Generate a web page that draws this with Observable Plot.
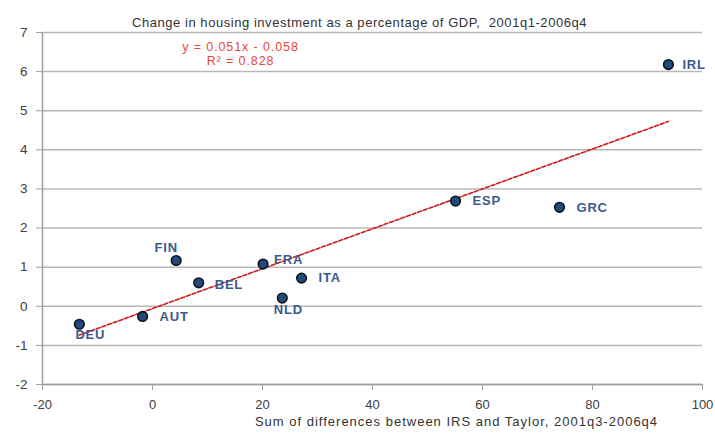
<!DOCTYPE html>
<html>
<head>
<meta charset="utf-8">
<script src="https://cdn.jsdelivr.net/npm/d3@7"></script>
<script src="https://cdn.jsdelivr.net/npm/@observablehq/plot@0.6"></script>
<style>
  body { margin: 0; background: #fff; font-family: "Liberation Sans", Arial, sans-serif; }
</style>
</head>
<body>
<div id="chart"></div>
<script>
const countries = ["IRL", "ESP", "GRC", "FIN", "BEL", "FRA", "ITA", "NLD", "AUT", "DEU"];
const xValues = [93.8, 55.1, 74.0, 4.3, 8.4, 20.1, 27.1, 23.6, -1.8, -13.3];
const yValues = [6.18, 2.69, 2.53, 1.17, 0.60, 1.08, 0.72, 0.21, -0.26, -0.46];
const labelDx = [14, 17, 17, -10, 16, 11, 17, 6, 17, 11];
const labelDy = [0, 0, 1, -13, 2, -4, 0, 12, 0, 11];
const labelAnchor = ["start", "start", "start", "middle", "start", "start", "start", "middle", "start", "middle"];
const xTicks = [-20, 0, 20, 40, 60, 80, 100];
const yTicks = [-2, -1, 0, 1, 2, 3, 4, 5, 6, 7];
const slope = 0.051, intercept = -0.058;
const title = "Change in housing investment as a percentage of GDP,  2001q1-2006q4";
const xLabel = "Sum of differences between IRS and Taylor, 2001q3-2006q4";
const equation = ["y = 0.051x - 0.058", "R\u00b2 = 0.828"];

const pts = countries.map((c, i) => ({c, x: xValues[i], y: yValues[i], dx: labelDx[i], dy: labelDy[i], a: labelAnchor[i]}));
const xmin = d3.min(xValues), xmax = d3.max(xValues);
const trend = [{x: xmin, y: slope * xmin + intercept}, {x: xmax, y: slope * xmax + intercept}];

const labelMarks = pts.map(d => Plot.text([d], {x: "x", y: "y", text: "c", dx: d.dx, dy: d.dy, textAnchor: d.a,
    fill: "#3a5a8c", fontWeight: "bold", fontSize: 13, fontFamily: "Liberation Sans, Arial, sans-serif"}));

const fmt = d => String(d);

const chart = Plot.plot({
  width: 715,
  height: 434,
  marginLeft: 42,
  marginRight: 13,
  marginTop: 32,
  marginBottom: 50,
  style: {fontFamily: "Liberation Sans, Arial, sans-serif", fontSize: "12px", color: "#404040", background: "#fff"},
  x: {domain: [-20, 100]},
  y: {domain: [-2, 7]},
  marks: [
    Plot.gridY(yTicks, {stroke: "#b8b8b8", strokeOpacity: 1, strokeWidth: 1.5}),
    Plot.ruleX([-20], {stroke: "#a0a0a0", strokeWidth: 1.5}),
    Plot.ruleY([-2], {stroke: "#a0a0a0", strokeWidth: 1.5}),
    Plot.axisY(yTicks, {tickSize: 6, tickPadding: 9, stroke: "#a0a0a0", fill: "#404040", fontSize: 13.5, tickFormat: fmt, label: null}),
    Plot.axisX(xTicks, {tickSize: 6, tickPadding: 9, stroke: "#a0a0a0", fill: "#404040", fontSize: 13, tickFormat: fmt, label: null}),
    Plot.line(trend, {x: "x", y: "y", stroke: "#cc1a1a", strokeWidth: 1.6, strokeDasharray: "4,2"}),
    Plot.dot(pts, {x: "x", y: "y", r: 4.8, fill: "#1f4a7f", stroke: "#111", strokeWidth: 1.6}),
    ...labelMarks,
    Plot.text([title], {frameAnchor: "top", dx: -13, dy: -15, fill: "#333", fontSize: 13}),
    Plot.text([xLabel], {frameAnchor: "bottom", dx: 84, dy: 41, fill: "#333", fontSize: 13}),
    Plot.text([equation[0]], {x: 16, y: 6.63, fill: "#e8483c", fontSize: 12.5}),
    Plot.text([equation[1]], {x: 16, y: 6.27, fill: "#e8483c", fontSize: 12.5})
  ]
});
const spacing = new Map([[title, "0.55px"], [xLabel, "1px"], [equation[0], "0.9px"], [equation[1], "0.9px"]]);
countries.forEach(c => spacing.set(c, "0.8px"));
d3.select(chart).selectAll("text").each(function() {
  const s = spacing.get(this.textContent);
  if (s) this.setAttribute("letter-spacing", s);
});
document.getElementById("chart").appendChild(chart);
</script>
</body>
</html>
